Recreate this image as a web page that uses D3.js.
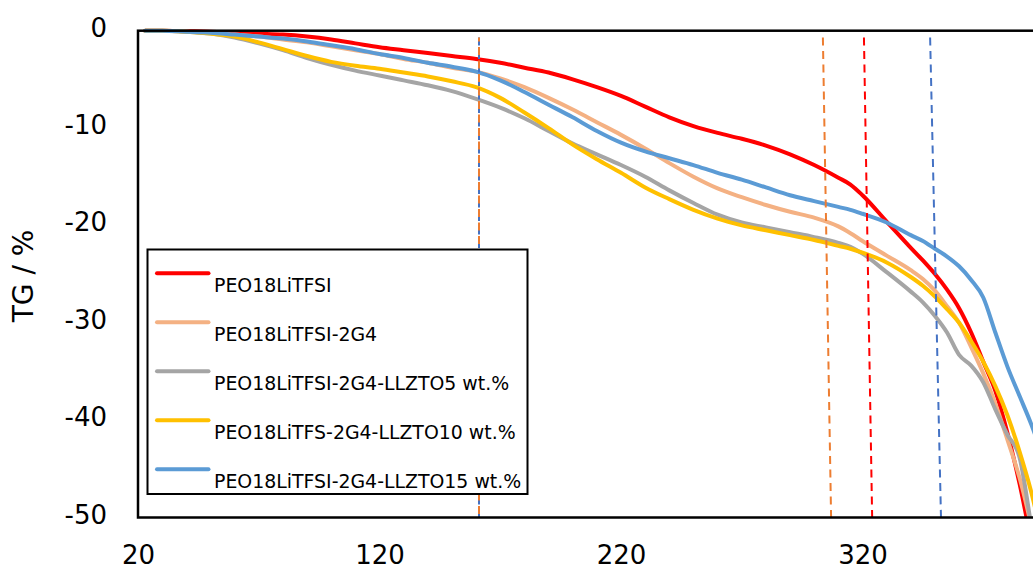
<!DOCTYPE html>
<html>
<head>
<meta charset="utf-8">
<script src="https://cdn.jsdelivr.net/npm/d3@7"></script>
<style>
  html, body { margin: 0; padding: 0; background: #fff; }
  svg { display: block; font-family: "DejaVu Sans", Verdana, sans-serif; }
</style>
</head>
<body>
<svg id="chart" width="1033" height="570"></svg>
<script>
// Temperature grid (°C) shared by all TG curves
const temps = [23, 30, 40, 50, 60, 70, 80, 90, 100, 110, 120, 130, 140, 150, 160, 170, 180, 190, 200,
  210, 220, 230, 240, 250, 260, 270, 280, 290, 300, 310, 315, 320, 330, 340, 345, 350, 355, 360,
  365, 370, 375, 380, 385, 390, 395];

// Weight change (%) of each electrolyte
const peo = [0, 0, -0.05, -0.1, -0.2, -0.3, -0.4, -0.6, -0.9, -1.3, -1.7, -2.0, -2.3, -2.6, -2.9, -3.3, -3.8, -4.3, -5.0,
  -5.8, -6.7, -7.8, -8.9, -9.8, -10.5, -11.1, -11.8, -12.7, -13.8, -15.1, -15.8, -16.9, -19.6, -22.3, -23.6, -25.0, -26.6, -28.5,
  -31.0, -34.0, -37.0, -41.3, -46.5, -52.5, -58];
const peo2G4 = [0, 0, -0.1, -0.2, -0.4, -0.6, -0.9, -1.2, -1.6, -2.0, -2.4, -2.9, -3.3, -3.8, -4.2, -4.9, -5.8, -6.9, -8.1,
  -9.4, -10.7, -12.1, -13.6, -15.0, -16.2, -17.1, -17.9, -18.6, -19.2, -20.1, -20.8, -21.6, -23.1, -24.6, -25.5, -26.7, -28.3, -30.0,
  -32.5, -35.2, -38.3, -42.0, -45.9, -51.0, -57];
const llzto5 = [0, 0, -0.1, -0.3, -0.7, -1.3, -2.0, -2.8, -3.5, -4.1, -4.6, -5.1, -5.6, -6.2, -7.0, -7.9, -9.0, -10.3, -11.6,
  -12.7, -13.8, -15.0, -16.4, -17.7, -18.9, -19.7, -20.2, -20.7, -21.2, -21.8, -22.2, -22.9, -24.8, -26.8, -27.9, -29.3, -31.0, -33.3,
  -34.4, -36.1, -38.9, -41.5, -43.8, -51.0, -58];
const llzto10 = [0, 0, -0.1, -0.3, -0.6, -1.2, -1.9, -2.6, -3.2, -3.6, -3.9, -4.3, -4.7, -5.2, -5.8, -6.9, -8.4, -10.0, -11.7,
  -13.2, -14.6, -16.1, -17.3, -18.4, -19.3, -20.0, -20.5, -21.0, -21.5, -22.1, -22.4, -22.8, -23.8, -25.3, -26.2, -27.3, -28.6, -30.0,
  -31.9, -34.0, -36.5, -39.5, -43.2, -47.5, -53];
const llzto15 = [0, 0, -0.1, -0.2, -0.4, -0.6, -0.8, -1.1, -1.5, -1.9, -2.4, -2.8, -3.3, -3.7, -4.2, -5.1, -6.3, -7.6, -8.9,
  -10.3, -11.5, -12.4, -13.1, -13.8, -14.6, -15.3, -16.1, -16.9, -17.5, -18.1, -18.4, -18.8, -19.7, -21.0, -21.6, -22.4, -23.2, -24.2,
  -25.6, -27.4, -31.0, -34.5, -37.5, -40.5, -44];

const seriesNames = ["PEO18LiTFSI", "PEO18LiTFSI-2G4", "PEO18LiTFSI-2G4-LLZTO5 wt.%",
  "PEO18LiTFS-2G4-LLZTO10 wt.%", "PEO18LiTFSI-2G4-LLZTO15 wt.%"];
const seriesValues = [peo, peo2G4, llzto5, llzto10, llzto15];
const seriesColors = ["#FF0000", "#F4B183", "#A5A5A5", "#FFC000", "#5B9BD5"];

// Onset-temperature guide lines (start at top, end at bottom)
const onsetStart = [161.2, 161.2, 303.6, 320.6, 348.0];
const onsetEnd   = [161.2, 161.2, 307.0, 324.0, 352.5];
const onsetColors = ["#4472C4", "#ED7D31", "#ED7D31", "#FF0000", "#4472C4"];

const xTicks = [20, 120, 220, 320];
const yTicks = [0, -10, -20, -30, -40, -50];
const yTitle = "TG / %";

const svg = d3.select("#chart");
const plotLeft = 138, plotTop = 30.7, plotBottom = 517.5;
const x = d3.scaleLinear().domain([20, 420]).range([plotLeft, plotLeft + 4 * 241.5]);
const y = d3.scaleLinear().domain([0, -50]).range([plotTop, plotBottom]);

svg.append("defs").append("clipPath").attr("id", "plotClip")
  .append("rect")
  .attr("x", x(20)).attr("y", y(0) - 3)
  .attr("width", x(420) - x(20)).attr("height", y(-50) - y(0) + 3);

// Curves
const line = d3.line()
  .x(d => x(d[0]))
  .y(d => y(d[1]))
  .curve(d3.curveMonotoneX);

const curves = svg.append("g").attr("clip-path", "url(#plotClip)");
seriesValues.forEach((vals, i) => {
  curves.append("path")
    .datum(temps.map((t, k) => [t, vals[k]]))
    .attr("d", line)
    .attr("fill", "none")
    .attr("stroke", seriesColors[i])
    .attr("stroke-width", 4)
    .attr("stroke-linejoin", "round")
    .attr("stroke-linecap", "round");
});

// Dashed onset lines
const guides = svg.append("g").attr("clip-path", "url(#plotClip)");
onsetStart.forEach((t0, i) => {
  guides.append("line")
    .attr("x1", x(t0)).attr("y1", y(-0.7))
    .attr("x2", x(onsetEnd[i])).attr("y2", y(-50))
    .attr("stroke", onsetColors[i])
    .attr("stroke-width", 2)
    .attr("stroke-dasharray", "8,5.5")
    .attr("stroke-dashoffset", i === 1 ? 4 : 0);
});

// Plot frame
svg.append("rect")
  .attr("x", x(20)).attr("y", y(0))
  .attr("width", x(420) - x(20)).attr("height", y(-50) - y(0))
  .attr("fill", "none")
  .attr("stroke", "#000")
  .attr("stroke-width", 2.5);

// Axis tick labels
const yAxis = d3.axisLeft(y).tickValues(yTicks).tickSize(0).tickPadding(0).tickFormat(d => String(d));
const yG = svg.append("g").attr("transform", "translate(107,0)").call(yAxis);
yG.select(".domain").remove();
yG.selectAll("text")
  .attr("font-size", 26)
  .attr("font-family", "DejaVu Sans, Verdana, sans-serif")
  .attr("fill", "#000")
  .attr("dy", null)
  .attr("dominant-baseline", "alphabetic")
  .attr("transform", "translate(0,5.5)");

const xAxis = d3.axisBottom(x).tickValues(xTicks).tickSize(0).tickPadding(0).tickFormat(d => String(d));
const xG = svg.append("g").attr("transform", "translate(0,563.5)").call(xAxis);
xG.select(".domain").remove();
xG.selectAll("text")
  .attr("font-size", 26)
  .attr("font-family", "DejaVu Sans, Verdana, sans-serif")
  .attr("fill", "#000")
  .attr("y", 0)
  .attr("dy", null)
  .attr("dominant-baseline", "alphabetic");

// Y axis title
svg.append("text")
  .attr("transform", "translate(33,276) rotate(-90)")
  .attr("text-anchor", "middle")
  .attr("font-size", 28)
  .attr("fill", "#000")
  .text(yTitle);

// Legend
const legend = svg.append("g");
legend.append("rect")
  .attr("x", 147.5).attr("y", 249.5)
  .attr("width", 380).attr("height", 244.5)
  .attr("fill", "#fff")
  .attr("stroke", "#000")
  .attr("stroke-width", 2);
seriesNames.forEach((name, i) => {
  const ly = 273.3 + i * 49;
  legend.append("line")
    .attr("x1", 157).attr("x2", 208.5)
    .attr("y1", ly).attr("y2", ly)
    .attr("stroke", seriesColors[i])
    .attr("stroke-width", 4)
    .attr("stroke-linecap", "round");
  legend.append("text")
    .attr("x", 214).attr("y", ly + 19)
    .attr("font-size", 18.9)
    .attr("fill", "#000")
    .text(name);
});
</script>
</body>
</html>
